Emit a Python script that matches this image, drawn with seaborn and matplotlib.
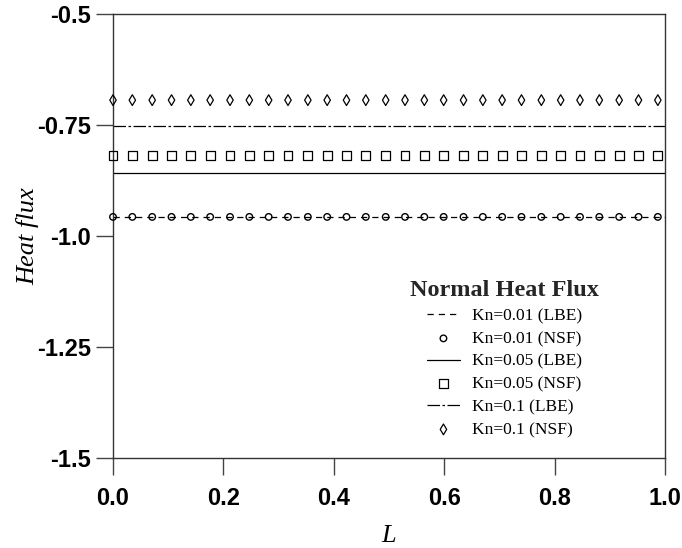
import numpy as np
import pandas as pd
import matplotlib
matplotlib.use("Agg")
import matplotlib.pyplot as plt
import seaborn as sns

# x positions of the sampled points
x_pts = [0.0, 0.035, 0.071, 0.106, 0.141, 0.176, 0.212, 0.247, 0.282, 0.317,
         0.353, 0.388, 0.423, 0.458, 0.494, 0.529, 0.564, 0.599, 0.635, 0.670,
         0.705, 0.740, 0.776, 0.811, 0.846, 0.881, 0.917, 0.952, 0.987]
x_line = [0.0, 1.0]

# constant heat-flux levels
lbe_001 = -0.957
nsf_001 = -0.957
lbe_005 = -0.857
nsf_005 = -0.819
lbe_01 = -0.752
nsf_01 = -0.694

labels = ["Kn=0.01 (LBE)", "Kn=0.01 (NSF)", "Kn=0.05 (LBE)",
          "Kn=0.05 (NSF)", "Kn=0.1 (LBE)", "Kn=0.1 (NSF)"]

xticks = [0.0, 0.2, 0.4, 0.6, 0.8, 1.0]
xticklabels = ["0.0", "0.2", "0.4", "0.6", "0.8", "1.0"]
yticks = [-1.5, -1.25, -1.0, -0.75, -0.5]
yticklabels = ["-1.5", "-1.25", "-1.0", "-0.75", "-0.5"]

sns.set_theme(style="white")
plt.rcParams['font.family'] = ['Liberation Sans', 'DejaVu Sans']

fig = plt.figure(figsize=(6.82, 5.48), dpi=100)
ax = fig.add_axes([113/682, 1 - 458/548, 552/682, 444/548])

def line_df(y):
    return pd.DataFrame({"x": x_line, "y": [y] * len(x_line)})

def pt_df(y):
    return pd.DataFrame({"x": x_pts, "y": [y] * len(x_pts)})

sns.lineplot(data=line_df(lbe_001), x="x", y="y", ax=ax, color="black",
             linewidth=0.9, linestyle=(0, (5, 4)), label=labels[0])
sns.scatterplot(data=pt_df(nsf_001), x="x", y="y", ax=ax, marker="o", s=22,
                facecolor="none", edgecolor="black", linewidth=1.0, label=labels[1],
                clip_on=False, zorder=5)
sns.lineplot(data=line_df(lbe_005), x="x", y="y", ax=ax, color="black",
             linewidth=0.9, linestyle="-", label=labels[2])
sns.scatterplot(data=pt_df(nsf_005), x="x", y="y", ax=ax, marker="s", s=40,
                facecolor="none", edgecolor="black", linewidth=0.9, label=labels[3],
                clip_on=False, zorder=5)
sns.lineplot(data=line_df(lbe_01), x="x", y="y", ax=ax, color="black",
             linewidth=0.9, linestyle=(0, (10, 2, 2, 2)), label=labels[4])
sns.scatterplot(data=pt_df(nsf_01), x="x", y="y", ax=ax, marker="d", s=30,
                facecolor="none", edgecolor="black", linewidth=0.9, label=labels[5],
                clip_on=False, zorder=5)

ax.set_xlim(0, 1)
ax.set_ylim(-1.5, -0.5)
ax.set_xticks(xticks)
ax.set_xticklabels(xticklabels, fontsize=17, fontweight="bold", color="black")
ax.set_yticks(yticks)
ax.set_yticklabels(yticklabels, fontsize=17, fontweight="bold", color="black")
ax.tick_params(axis="both", direction="out", length=12, width=1, color="#444444",
               left=True, bottom=True)
ax.tick_params(axis="y", pad=4)
ax.tick_params(axis="x", pad=9)
for sp in ax.spines.values():
    sp.set_color("#333333")
    sp.set_linewidth(1.0)

ax.set_xlabel("L", fontsize=19, fontstyle="italic", family="Liberation Serif",
              color="black")
ax.set_ylabel("Heat flux", fontsize=19, fontstyle="italic", family="Liberation Serif",
              color="black")
ax.xaxis.set_label_coords(0.5, -0.15)
ax.yaxis.set_label_coords(-0.134, 0.5)

leg = ax.legend(loc="lower left", bbox_to_anchor=(0.51, 0.01), frameon=False,
                prop={"family": "Liberation Serif", "size": 12.5},
                title="Normal Heat Flux", handlelength=1.9, labelspacing=0.38,
                handletextpad=0.7)
leg.get_title().set_fontfamily("Liberation Serif")
leg.get_title().set_fontsize(17.5)
leg.get_title().set_fontweight("bold")
for t in leg.get_texts():
    t.set_color("black")

fig.savefig("out.png", dpi=100)
